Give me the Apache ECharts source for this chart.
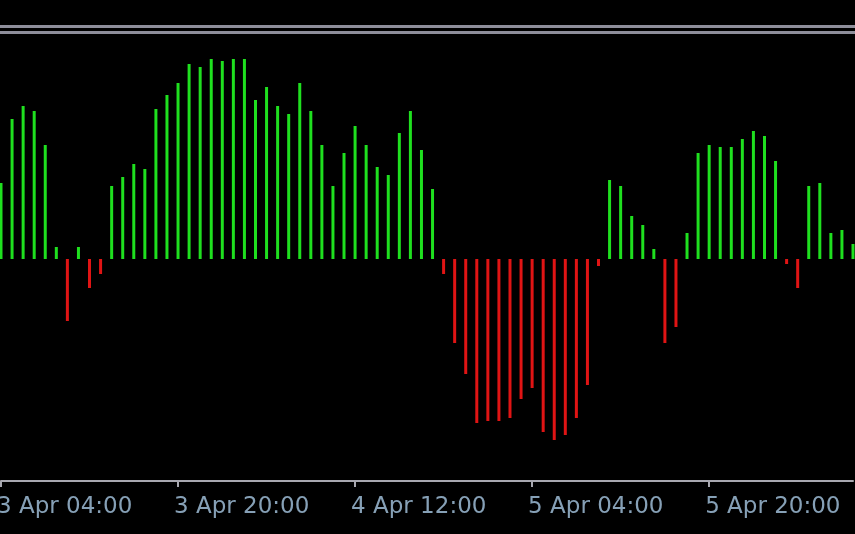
<!DOCTYPE html>
<html>
<head>
<meta charset="utf-8">
<script src="https://cdn.jsdelivr.net/npm/echarts@6/dist/echarts.min.js"></script>
<style>
html,body{margin:0;padding:0;background:#000;}
#chart{width:855px;height:534px;}
</style>
</head>
<body>
<div id="chart"></div>
<script>
// Hourly bars (categories)
const categories = [
  "3 Apr 04:00","3 Apr 05:00","3 Apr 06:00","3 Apr 07:00","3 Apr 08:00","3 Apr 09:00","3 Apr 10:00","3 Apr 11:00",
  "3 Apr 12:00","3 Apr 13:00","3 Apr 14:00","3 Apr 15:00","3 Apr 16:00","3 Apr 17:00","3 Apr 18:00","3 Apr 19:00",
  "3 Apr 20:00","3 Apr 21:00","3 Apr 22:00","3 Apr 23:00",
  "4 Apr 00:00","4 Apr 01:00","4 Apr 02:00","4 Apr 03:00","4 Apr 04:00","4 Apr 05:00","4 Apr 06:00","4 Apr 07:00",
  "4 Apr 08:00","4 Apr 09:00","4 Apr 10:00","4 Apr 11:00","4 Apr 12:00","4 Apr 13:00","4 Apr 14:00","4 Apr 15:00",
  "4 Apr 16:00","4 Apr 17:00","4 Apr 18:00","4 Apr 19:00","4 Apr 20:00","4 Apr 21:00","4 Apr 22:00","4 Apr 23:00",
  "5 Apr 00:00","5 Apr 01:00","5 Apr 02:00","5 Apr 03:00","5 Apr 04:00","5 Apr 05:00","5 Apr 06:00","5 Apr 07:00",
  "5 Apr 08:00","5 Apr 09:00","5 Apr 10:00","5 Apr 11:00","5 Apr 12:00","5 Apr 13:00","5 Apr 14:00","5 Apr 15:00",
  "5 Apr 16:00","5 Apr 17:00","5 Apr 18:00","5 Apr 19:00","5 Apr 20:00","5 Apr 21:00","5 Apr 22:00","5 Apr 23:00",
  "6 Apr 00:00","6 Apr 01:00","6 Apr 02:00","6 Apr 03:00","6 Apr 04:00","6 Apr 05:00","6 Apr 06:00","6 Apr 07:00",
  "6 Apr 08:00","6 Apr 09:00"
];

// Histogram values
const values = [
  76, 140, 153, 148, 114, 12, -62, 12, -29, -15,
  73, 82, 95, 90, 150, 164, 176, 195, 192, 200,
  198, 200, 200, 159, 172, 153, 145, 176, 148, 114,
  73, 106, 133, 114, 92, 84, 126, 148, 109, 70,
  -15, -84, -115, -164, -162, -162, -159, -140, -129, -173,
  -181, -176, -159, -126, -7, 79, 73, 43, 34, 10,
  -84, -68, 26, 106, 114, 112, 112, 120, 128, 123,
  98, -5, -29, 73, 76, 26, 29, 15
];

// Labelled ticks on the time axis
const tickLabels = ["3 Apr 04:00","3 Apr 20:00","4 Apr 12:00","5 Apr 04:00","5 Apr 20:00"];

const UP = '#1fe01f';
const DOWN = '#e01414';

const chart = echarts.init(document.getElementById('chart'), null, {renderer:'canvas'});
const showTick = (idx, val) => tickLabels.indexOf(categories[idx]) >= 0;

chart.setOption({
  backgroundColor: '#000000',
  animation: false,
  graphic: [
    {type:'rect', shape:{x:0,y:25,width:855,height:3}, style:{fill:'#8e8e9a'}, silent:true},
    {type:'rect', shape:{x:0,y:31,width:855,height:3}, style:{fill:'#8e8e9a'}, silent:true}
  ],
  grid: {left: 1, right: 2, top: 40, bottom: 53, containLabel: false, outerBoundsMode: 'none'},
  xAxis: {
    type: 'category',
    data: categories,
    boundaryGap: false,
    axisLine: {show: true, onZero: false, lineStyle: {color: '#a8a8b0', width: 2}},
    axisTick: {show: true, interval: showTick, length: 6, lineStyle: {color: '#a8a8b0', width: 2}},
    axisLabel: {
      show: true,
      interval: showTick,
      align: 'left',
      margin: 15,
      padding: [0, 0, 0, -4],
      color: '#86a0b6',
      fontFamily: 'DejaVu Sans',
      fontSize: 23
    },
    splitLine: {show: false}
  },
  yAxis: {
    type: 'value',
    min: -222,
    max: 219,
    show: false,
    splitLine: {show: false}
  },
  series: [{
    type: 'bar',
    data: values,
    barWidth: 3,
    itemStyle: {
      color: (p) => p.value >= 0 ? UP : DOWN
    }
  }]
});
</script>
</body>
</html>
